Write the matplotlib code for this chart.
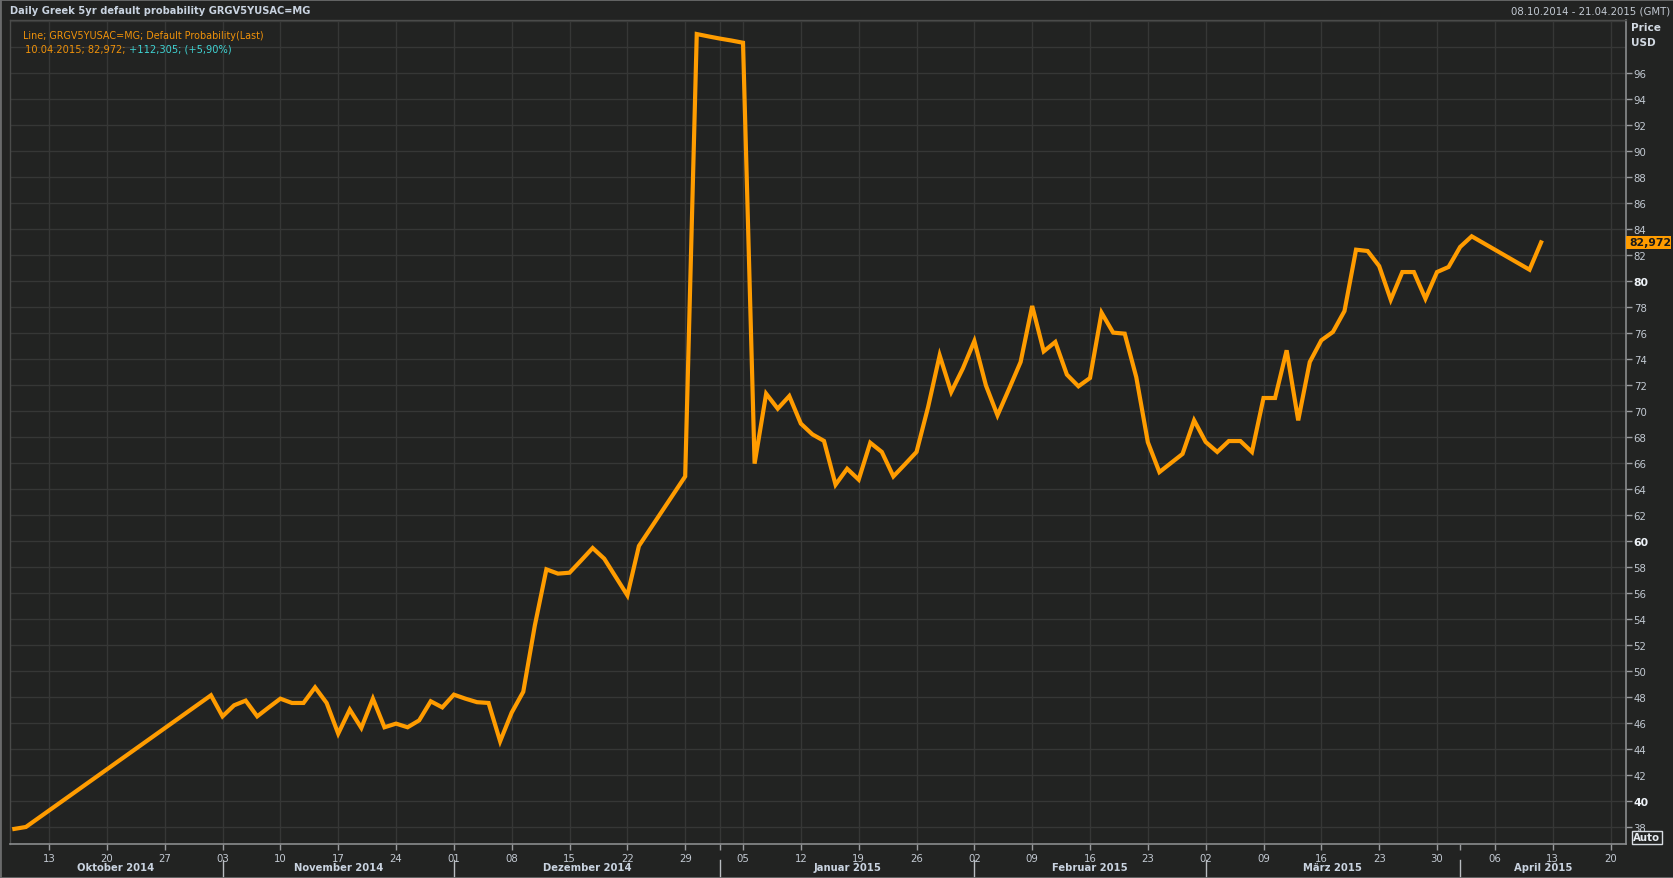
import matplotlib
matplotlib.use("Agg")
import matplotlib.pyplot as plt
import pandas as pd
import numpy as np
from matplotlib.patches import Rectangle

# ---------------- data ----------------
dates = [
    "2014-10-08", "2014-10-09", "2014-10-31",
    "2014-11-03", "2014-11-04", "2014-11-05", "2014-11-06", "2014-11-07",
    "2014-11-10", "2014-11-11", "2014-11-12", "2014-11-13", "2014-11-14",
    "2014-11-17", "2014-11-18", "2014-11-19", "2014-11-20", "2014-11-21",
    "2014-11-24", "2014-11-25", "2014-11-26", "2014-11-27", "2014-11-28",
    "2014-12-01", "2014-12-02", "2014-12-03", "2014-12-04", "2014-12-05",
    "2014-12-08", "2014-12-09", "2014-12-10", "2014-12-11", "2014-12-12",
    "2014-12-15", "2014-12-16", "2014-12-17", "2014-12-18", "2014-12-19",
    "2014-12-22", "2014-12-23", "2014-12-29", "2014-12-30", "2014-12-31",
    "2015-01-01", "2015-01-02",
    "2015-01-05", "2015-01-06", "2015-01-07", "2015-01-08", "2015-01-09",
    "2015-01-12", "2015-01-13", "2015-01-14", "2015-01-15", "2015-01-16",
    "2015-01-19", "2015-01-20", "2015-01-21", "2015-01-22", "2015-01-23",
    "2015-01-26", "2015-01-27", "2015-01-28", "2015-01-29", "2015-01-30",
    "2015-02-02", "2015-02-03", "2015-02-04", "2015-02-05", "2015-02-06",
    "2015-02-09", "2015-02-10", "2015-02-11", "2015-02-12", "2015-02-13",
    "2015-02-16", "2015-02-17", "2015-02-18", "2015-02-19", "2015-02-20",
    "2015-02-23", "2015-02-24", "2015-02-25", "2015-02-26", "2015-02-27",
    "2015-03-02", "2015-03-03", "2015-03-04", "2015-03-05", "2015-03-06",
    "2015-03-09", "2015-03-10", "2015-03-11", "2015-03-12", "2015-03-13",
    "2015-03-16", "2015-03-17", "2015-03-18", "2015-03-19", "2015-03-20",
    "2015-03-23", "2015-03-24", "2015-03-25", "2015-03-26", "2015-03-27",
    "2015-03-30", "2015-03-31", "2015-04-01", "2015-04-02",
    "2015-04-09", "2015-04-10",
]
values = [
    37.85, 38.0, 48.13,
    46.51, 47.36, 47.72, 46.51, 47.2,
    47.87, 47.54, 47.54, 48.74, 47.54,
    45.18, 47.03, 45.62, 47.87, 45.67,
    45.95, 45.67, 46.2, 47.67, 47.2,
    48.18, 47.87, 47.6, 47.54, 44.59,
    46.8, 48.4, 53.5, 57.82, 57.49,
    57.56, 58.5, 59.46, 58.64, 57.23,
    55.82, 59.62, 64.97, 99.0, 98.82,
    98.65, 98.5,
    98.33, 65.95, 71.33, 70.18, 71.15,
    69.03, 68.2, 67.7, 64.33, 65.56,
    64.72, 67.56, 66.85, 64.97, 65.9,
    66.85, 70.3, 74.28, 71.46, 73.26,
    75.38, 71.97, 69.67, 71.7, 73.77,
    78.08, 74.59, 75.31, 72.8, 71.9,
    72.54, 77.56, 76.03, 75.95, 72.6,
    67.6, 65.3, 66.0, 66.7, 69.28,
    67.62, 66.85, 67.69, 67.69, 66.85,
    71.0, 71.0, 74.67, 69.28, 73.77,
    75.44, 76.08, 77.69, 82.41, 82.31,
    81.15, 78.56, 80.69, 80.69, 78.64,
    80.69, 81.08, 82.62, 83.44,
    80.87, 82.972,
]
y_ticks = list(range(38, 97, 2))
bold_ticks = [40, 60, 80]
month_names = ["Oktober 2014", "November 2014", "Dezember 2014", "Januar 2015",
               "Februar 2015", "März 2015", "April 2015"]
title = "Daily Greek 5yr default probability GRGV5YUSAC=MG"
range_text = "08.10.2014 - 21.04.2015 (GMT)"
legend_line1 = "Line; GRGV5YUSAC=MG; Default Probability(Last)"
legend_line2a = "10.04.2015; 82,972; "
legend_line2b = "+112,305; (+5,90%)"
last_label = "82,972"
last_value = 82.972

# ---------------- layout helpers ----------------
W, H = 1674, 879
BG = "#222322"
GRID = "#363736"
TXT = "#c3cad3"
BRIGHT = "#eef2f7"
ORANGE = "#ff9c00"
FONT = "DejaVu Sans"

def fx(px):
    return px / W

def fy(py):
    return 1 - py / H

# trading-day axis (weekdays only)
days = pd.bdate_range("2014-10-08", "2015-04-21")
pos = {d: i for i, d in enumerate(days)}
xs = [pos[pd.Timestamp(d)] for d in dates]

fig = plt.figure(figsize=(W / 100, H / 100), dpi=100, facecolor=BG)
L, R, T, B = 9.6, 1626, 21, 845
ax = fig.add_axes([fx(L), fy(B), fx(R) - fx(L), fy(T) - fy(B)], facecolor=BG)

x0, x1 = -0.41, 139.34
y0, y1 = 36.69, 100.08
ax.set_xlim(x0, x1)
ax.set_ylim(y0, y1)

# grid
for v in range(38, 101, 2):
    ax.axhline(v, color=GRID, lw=1.0, zorder=0)
mondays = [i for i, d in enumerate(days) if d.weekday() == 0]
month_first = []
for m in pd.period_range("2014-11", "2015-04", freq="M"):
    first = [i for i, d in enumerate(days) if d.year == m.year and d.month == m.month][0]
    month_first.append(first)
grid_x = sorted(set(mondays) | {pos[pd.Timestamp("2015-01-01")]})
for gx in grid_x:
    ax.axvline(gx, color=GRID, lw=1.0, zorder=0)

# line
ax.plot(xs, values, color=ORANGE, lw=3.0, solid_joinstyle="miter", zorder=3)

# spines
for s in ["top", "left"]:
    ax.spines[s].set_color("#4a4b4a")
    ax.spines[s].set_linewidth(1.0)
for s in ["bottom", "right"]:
    ax.spines[s].set_color("#8a8c8e")
    ax.spines[s].set_linewidth(1.2)

# y axis on the right
ax.yaxis.tick_right()
ax.set_yticks(y_ticks)
ax.set_yticklabels([str(v) for v in y_ticks])
ax.tick_params(axis="y", direction="out", length=4, width=1, color="#9a9c9e",
               pad=1.5, labelsize=7.3, labelcolor=TXT, labelfontfamily=FONT)
for lab, v in zip(ax.get_yticklabels(), y_ticks):
    if v in bold_ticks:
        lab.set_fontweight("bold")
        lab.set_color(BRIGHT)
        lab.set_fontsize(7.8)

# x axis
ax.set_xticks(mondays)
ax.set_xticklabels([days[i].strftime("%d") for i in mondays])
ax.set_xticks([i for i in month_first if i not in mondays], minor=True)
ax.tick_params(axis="x", which="both", direction="out", length=4, width=1,
               color="#9a9c9e", pad=2.5, labelsize=7.3, labelcolor=TXT,
               labelfontfamily=FONT)

# month labels and separators in figure coords
def xpix(idx):
    return L + (idx - x0) / (x1 - x0) * (R - L)

bounds = [x0] + month_first + [x1]
for k, name in enumerate(month_names):
    a, b = bounds[k], bounds[k + 1]
    cx = (xpix(a) + xpix(b)) / 2
    fig.text(fx(cx), fy(868), name, ha="center", va="center", fontsize=7.2,
             fontweight="bold", color="#c9d3e0", family=FONT)
for mf in month_first:
    xp = xpix(mf)
    fig.add_artist(plt.Line2D([fx(xp), fx(xp)], [fy(861), fy(877)],
                              color="#b8bcc0", lw=1.0))

# title bar
fig.text(fx(10), fy(11), title, ha="left", va="center", fontsize=7.1,
         fontweight="bold", color="#c9d3e0", family=FONT)
fig.text(fx(1670), fy(11), range_text, ha="right", va="center", fontsize=7.3,
         color=TXT, family=FONT)

# Price / USD
fig.text(fx(1631), fy(28), "Price", ha="left", va="center", fontsize=7.6,
         fontweight="bold", color="#d2d9e2", family=FONT)
fig.text(fx(1631), fy(43), "USD", ha="left", va="center", fontsize=7.6,
         fontweight="bold", color="#d2d9e2", family=FONT)

# legend text inside plot
fig.text(fx(23), fy(36), legend_line1, ha="left", va="center", fontsize=6.95,
         color="#f0920a", family=FONT)
t1 = fig.text(fx(25), fy(50), legend_line2a, ha="left", va="center",
              fontsize=7.1, color="#f0920a", family=FONT)
fig.canvas.draw()
bb = t1.get_window_extent()
fig.text(bb.x1 / W, fy(50), legend_line2b, ha="left", va="center",
         fontsize=7.1, color="#3fd3d3", family=FONT)

# last value box
ypix_last = T + (y1 - last_value) / (y1 - y0) * (B - T)
fig.patches.append(Rectangle((fx(1626), fy(ypix_last + 6.5)), fx(1671) - fx(1626),
                             13 / H, transform=fig.transFigure, facecolor="#ff9c00",
                             edgecolor="none", zorder=5))
fig.text(fx(1629), fy(ypix_last), last_label, ha="left", va="center",
         fontsize=7.8, fontweight="bold", color="#1a1a1a", family=FONT, zorder=6)

# Auto box
fig.patches.append(Rectangle((fx(1632), fy(845)), fx(1662) - fx(1632), 13 / H,
                             transform=fig.transFigure, facecolor="none",
                             edgecolor="#d8dde3", lw=1.0, zorder=5))
fig.text(fx(1647), fy(838.5), "Auto", ha="center", va="center", fontsize=7.4,
         fontweight="bold", color="#e6ebf0", family=FONT)

# outer frame
fig.patches.append(Rectangle((0, 0), 1, 1, transform=fig.transFigure,
                             facecolor="none", edgecolor="#6a6b6c", lw=2.0))

fig.savefig("out.png", dpi=100, facecolor=BG)
